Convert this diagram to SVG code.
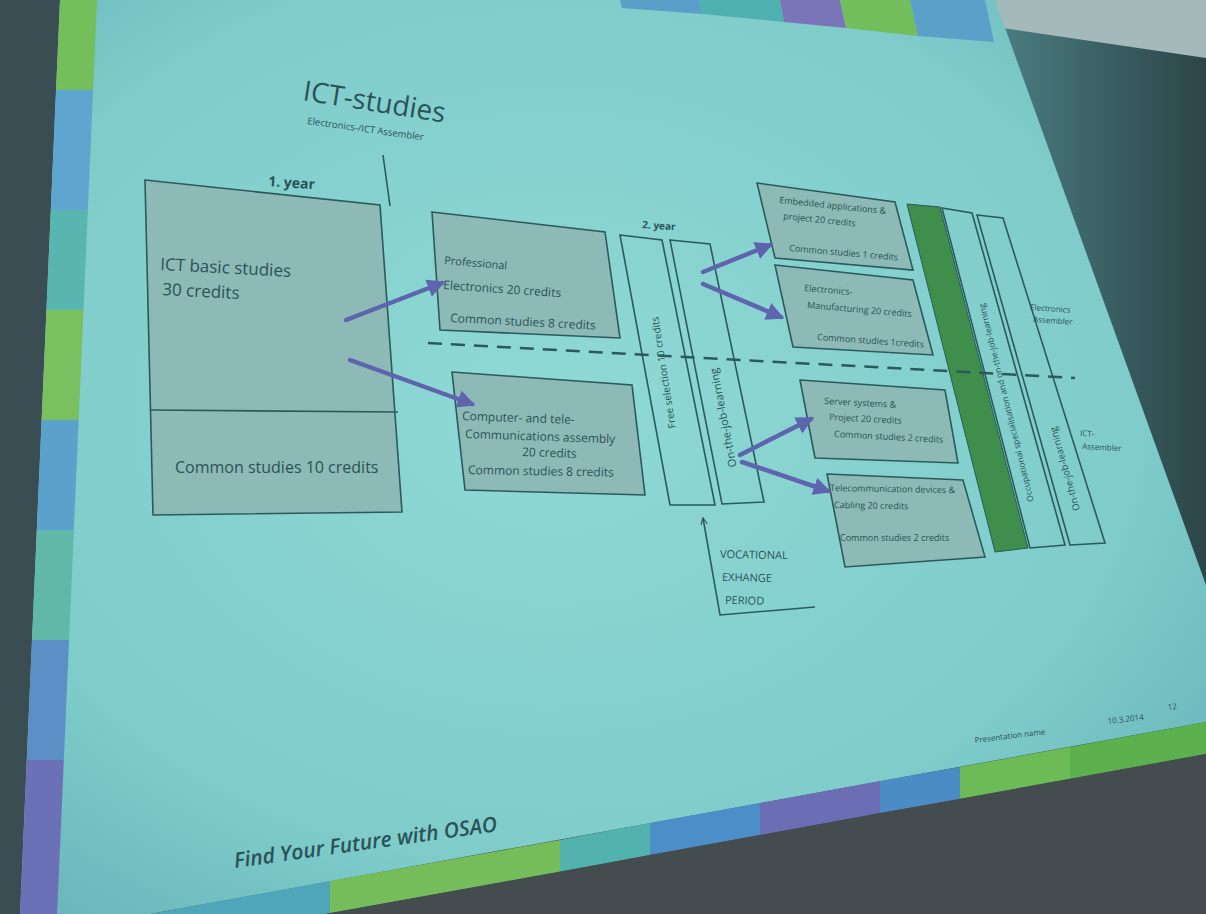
<svg xmlns="http://www.w3.org/2000/svg" width="1206" height="914" viewBox="0 0 1206 914">
<defs>
<radialGradient id="scr" cx="0.45" cy="0.45" r="0.7">
<stop offset="0" stop-color="#8fd9d5"/>
<stop offset="0.7" stop-color="#7fcccb"/>
<stop offset="1" stop-color="#69b5bb"/>
</radialGradient>
<linearGradient id="rightdark" x1="0" y1="0" x2="1" y2="0">
<stop offset="0" stop-color="#4b7e82"/>
<stop offset="1" stop-color="#2c4548"/>
</linearGradient>
<marker id="ah" viewBox="0 0 10 10" refX="8" refY="5" markerWidth="4" markerHeight="4" orient="auto" markerUnits="strokeWidth">
<path d="M0,0 L10,5 L0,10 Z" fill="#5e64ae"/>
</marker>
<marker id="oa" viewBox="0 0 10 10" refX="9" refY="5" markerWidth="8" markerHeight="8" orient="auto" markerUnits="userSpaceOnUse">
<path d="M1,1 L9,5 L1,9" fill="none" stroke="#2c5a5c" stroke-width="1.5"/>
</marker>
</defs>
<style>
.box{fill:#8db9b6;stroke:#2c5a5c;stroke-width:1.6}
.thin{fill:none;stroke:#2c5a5c;stroke-width:1.6}
.t{font-family:"Open Sans","Liberation Sans",sans-serif;fill:#2b5257}
.arr{stroke:#5e64ae;stroke-width:4.5;fill:none;stroke-linecap:round}
.dash{stroke:#2c5a5c;stroke-width:2.5;stroke-dasharray:14 9;fill:none}
</style>
<!-- background / photo surroundings -->
<rect x="0" y="0" width="1206" height="914" fill="#3a4d52"/>
<polygon points="995,0 1206,0 1206,760 1100,760" fill="url(#rightdark)"/>
<polygon points="985,0 1206,0 1206,58 1002,28" fill="#a3b9ba"/>
<polygon points="60,0 995,0 1206,585 1206,722 200,905 150,914 20,914" fill="url(#scr)"/>
<!-- top strip -->
<polygon points="620,0 700,0 702,14 622,8" fill="#5a9fc8"/>
<polygon points="700,0 780,0 784,22 702,14" fill="#4fb0b0"/>
<polygon points="780,0 840,0 846,28 784,22" fill="#7a74b8"/>
<polygon points="840,0 910,0 918,36 846,28" fill="#72bd5c"/>
<polygon points="910,0 985,0 994,42 918,36" fill="#5aa0c8"/>
<!-- left strip -->
<g transform="skewX(-2.5)">
<rect x="60" y="0" width="37" height="90" fill="#74bf5c"/>
<rect x="60" y="90" width="37" height="120" fill="#5ea6cf"/>
<rect x="60" y="210" width="37" height="100" fill="#58b5b0"/>
<rect x="60" y="310" width="37" height="110" fill="#78c060"/>
<rect x="60" y="420" width="37" height="110" fill="#5aa2cc"/>
<rect x="60" y="530" width="37" height="110" fill="#62b8a8"/>
<rect x="60" y="640" width="37" height="120" fill="#5c8fc6"/>
<rect x="60" y="760" width="37" height="154" fill="#6c70b6"/>
</g>
<!-- bottom band -->
<polygon points="150,914 330,881 330,913 150,946" fill="#4fa6b8"/>
<polygon points="330,881 560,840 560,872 330,913" fill="#74bd5a"/>
<polygon points="560,840 650,823 650,855 560,872" fill="#52b2ae"/>
<polygon points="650,823 760,803 760,835 650,855" fill="#4c8fc8"/>
<polygon points="760,803 880,781 880,813 760,835" fill="#6c6eb5"/>
<polygon points="880,781 960,767 960,799 880,813" fill="#4b8cc4"/>
<polygon points="960,767 1070,747 1070,779 960,799" fill="#6cbb56"/>
<polygon points="1070,747 1206,722 1206,754 1070,779" fill="#5cb04e"/>
<polygon points="150,946 1206,754 1206,914 150,914" fill="#454c4f"/>

<!-- title -->
<text class="t" x="302" y="100" font-size="28" fill="#3c6a6e" transform="rotate(9 302 100)">ICT-studies</text>
<text class="t" x="307" y="124" font-size="9.5" transform="rotate(8 307 124)">Electronics-/ICT Assembler</text>
<text class="t" x="268" y="186" font-size="14" font-weight="bold" transform="rotate(4 268 186)">1. year</text>
<line x1="383" y1="155" x2="390" y2="206" stroke="#2c5a5c" stroke-width="1.6"/>
<text class="t" x="642" y="228" font-size="10" font-weight="bold" transform="rotate(4 642 228)">2. year</text>

<!-- nodes -->
<g id="ict-basic">
<polygon class="box" points="145,180 380,205 402,512 153,515"/>
<line x1="150" y1="410" x2="398" y2="412" stroke="#2c5a5c" stroke-width="1.6"/>
<text class="t" x="160" y="270" font-size="17" transform="rotate(3 160 270)">ICT basic studies</text>
<text class="t" x="162" y="295" font-size="17" transform="rotate(3 162 295)">30 credits</text>
<text class="t" x="175" y="473" font-size="16">Common studies 10 credits</text>
</g>
<g id="prof-electronics">
<polygon class="box" points="432,212 605,232 620,338 440,330"/>
<text class="t" x="444" y="264" font-size="11" transform="rotate(5 444 264)">Professional</text>
<text class="t" x="443" y="289" font-size="12" transform="rotate(4 443 289)">Electronics 20 credits</text>
<text class="t" x="450" y="322" font-size="12" transform="rotate(3 450 322)">Common studies 8 credits</text>
</g>
<g id="computer-tele">
<polygon class="box" points="452,372 632,385 645,495 465,490"/>
<text class="t" x="462" y="420" font-size="12" transform="rotate(2 462 420)">Computer- and tele-</text>
<text class="t" x="465" y="438" font-size="12" transform="rotate(2 465 438)">Communications assembly</text>
<text class="t" x="522" y="456" font-size="12" transform="rotate(2 522 456)">20 credits</text>
<text class="t" x="468" y="474" font-size="12" transform="rotate(1 468 474)">Common studies 8 credits</text>
</g>
<g id="free-selection">
<polygon class="thin" points="620,235 662,240 715,505 670,505"/>
<text class="t" x="667" y="372" font-size="10" text-anchor="middle" transform="rotate(-99 667 372)">Free selection 10 credits</text>
</g>
<g id="on-the-job-1">
<polygon class="thin" points="670,240 710,244 764,502 722,504"/>
<text class="t" x="727" y="417" font-size="11" text-anchor="middle" transform="rotate(-101 727 417)">On-the-job-learning</text>
</g>
<g id="embedded">
<polygon class="box" points="757,183 895,202 913,270 775,258"/>
<text class="t" x="779" y="203" font-size="9" transform="rotate(6 779 203)">Embedded applications &amp;</text>
<text class="t" x="783" y="219" font-size="9" transform="rotate(6 783 219)">project 20 credits</text>
<text class="t" x="789" y="251" font-size="9" transform="rotate(5 789 251)">Common studies 1 credits</text>
</g>
<g id="manufacturing">
<polygon class="box" points="775,265 913,280 933,355 793,347"/>
<text class="t" x="804" y="291" font-size="9" transform="rotate(5 804 291)">Electronics-</text>
<text class="t" x="807" y="308" font-size="9" transform="rotate(5 807 308)">Manufacturing 20 credits</text>
<text class="t" x="817" y="340" font-size="9" transform="rotate(4 817 340)">Common studies 1credits</text>
</g>
<g id="server">
<polygon class="box" points="800,380 945,390 958,463 815,458"/>
<text class="t" x="824" y="404" font-size="9" transform="rotate(3 824 404)">Server systems &amp;</text>
<text class="t" x="829" y="420" font-size="9" transform="rotate(3 829 420)">Project 20 credits</text>
<text class="t" x="834" y="437" font-size="9" transform="rotate(3 834 437)">Common studies 2 credits</text>
</g>
<g id="telecom">
<polygon class="box" points="827,474 963,480 985,557 845,567"/>
<text class="t" x="830" y="491" font-size="9" transform="rotate(1 830 491)">Telecommunication devices &amp;</text>
<text class="t" x="834" y="508" font-size="9" transform="rotate(1 834 508)">Cabling 20 credits</text>
<text class="t" x="840" y="541" font-size="9">Common studies 2 credits</text>
</g>
<g id="green-bar">
<polygon points="907,204 940,207 1028,548 995,552" fill="#3f8e4c" stroke="#2c5a5c" stroke-width="1"/>
</g>
<g id="occupational">
<polygon class="thin" points="942,208 972,213 1065,545 1030,548"/>
<text class="t" x="1009" y="402" font-size="8.5" text-anchor="middle" transform="rotate(-104 1009 402)">Occupational specialisation and on-the-job-learning</text>
</g>
<g id="on-the-job-2">
<polygon class="thin" points="977,215 1003,218 1105,543 1070,545"/>
<text class="t" x="1068" y="468" font-size="9.5" text-anchor="middle" transform="rotate(-106 1068 468)">On-the-job-learning</text>
</g>
<g id="label-electronics">
<text class="t" x="1030" y="310" font-size="8" transform="rotate(4 1030 310)">Electronics</text>
<text class="t" x="1033" y="322" font-size="8" transform="rotate(4 1033 322)">Assembler</text>
</g>
<g id="label-ict">
<text class="t" x="1080" y="436" font-size="8" transform="rotate(3 1080 436)">ICT-</text>
<text class="t" x="1082" y="449" font-size="8" transform="rotate(3 1082 449)">Assembler</text>
</g>
<g id="vocational">
<text class="t" x="720" y="558" font-size="11" transform="rotate(1 720 558)">VOCATIONAL</text>
<text class="t" x="722" y="581" font-size="11" transform="rotate(1 722 581)">EXHANGE</text>
<text class="t" x="725" y="604" font-size="11" transform="rotate(1 725 604)">PERIOD</text>
</g>

<!-- connectors -->
<g id="connectors">
<line class="dash" x1="428" y1="343" x2="1075" y2="378"/>
<line class="arr" x1="346" y1="320" x2="442" y2="283" marker-end="url(#ah)"/>
<line class="arr" x1="350" y1="360" x2="472" y2="404" marker-end="url(#ah)"/>
<line class="arr" x1="703" y1="272" x2="770" y2="245" marker-end="url(#ah)"/>
<line class="arr" x1="703" y1="284" x2="781" y2="317" marker-end="url(#ah)"/>
<line class="arr" x1="740" y1="455" x2="811" y2="419" marker-end="url(#ah)"/>
<line class="arr" x1="742" y1="462" x2="828" y2="491" marker-end="url(#ah)"/>
<path d="M815,607 L720,615 L703,518" fill="none" stroke="#2c5a5c" stroke-width="1.6" marker-end="url(#oa)"/>
</g>

<!-- footer -->
<text class="t" x="975" y="743" font-size="8" transform="rotate(-7 975 743)">Presentation name</text>
<text class="t" x="1108" y="724" font-size="8" transform="rotate(-7 1108 724)">10.3.2014</text>
<text class="t" x="1168" y="710" font-size="8" transform="rotate(-7 1168 710)">12</text>
<text class="t" x="235" y="868" font-size="21" font-style="italic" font-weight="600" fill="#2f6e86" transform="rotate(-8 235 868)">Find Your Future with OSAO</text>
</svg>
